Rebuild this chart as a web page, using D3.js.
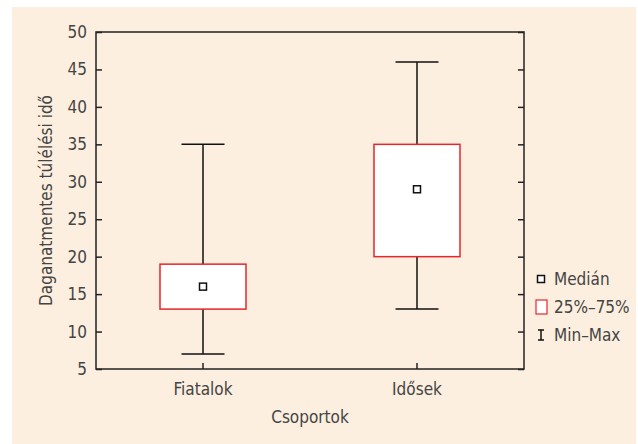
<!DOCTYPE html>
<html>
<head>
<style>
  body { margin: 0; background: #fff; }
  text { font-family: "Liberation Sans Narrow", "DejaVu Sans Condensed", sans-serif; fill: #444; }
</style>
</head>
<body>
<div id="chart"></div>
<script src="https://cdn.jsdelivr.net/npm/d3@7"></script>
<script>
// data
var groups = ["Fiatalok", "Idősek"];
var mins = [7, 13];
var q1 = [13, 20];
var medians = [16, 29];
var q3 = [19, 35];
var maxs = [35, 46];
var yTicks = [5, 10, 15, 20, 25, 30, 35, 40, 45, 50];
var legendLabels = ["Medián", "25%–75%", "Min–Max"];

var W = 638, H = 444;
var margin = {left: 96, top: 32, right: 114, bottom: 75};

var svg = d3.select("#chart").append("svg")
    .attr("width", W).attr("height", H);

svg.append("rect")
    .attr("x", 12).attr("y", 7)
    .attr("width", 624).attr("height", H - 7)
    .attr("fill", "#fdefdf");

var x = d3.scaleBand()
    .domain(groups)
    .range([margin.left, W - margin.right])
    .padding(0);

var y = d3.scaleLinear()
    .domain([5, 50])
    .range([H - margin.bottom, margin.top]);

var g = svg.append("g");

// frame
g.append("rect")
    .attr("x", margin.left).attr("y", margin.top)
    .attr("width", W - margin.left - margin.right)
    .attr("height", H - margin.top - margin.bottom)
    .attr("fill", "none").attr("stroke", "#222").attr("stroke-width", 1.5);

// left axis
var yAxis = d3.axisLeft(y).tickValues(yTicks).tickSize(-6).tickPadding(9);
var ya = g.append("g").attr("transform", "translate(" + margin.left + ",0)").call(yAxis);
ya.select(".domain").remove();
ya.selectAll("line").attr("stroke", "#222").attr("stroke-width", 1.5);
ya.selectAll("text").style("font-size", "17px").attr("fill", "#444")
    .style("font-family", "'Liberation Sans Narrow', 'DejaVu Sans Condensed', sans-serif");

// right ticks
var yr = g.append("g").attr("transform", "translate(" + (W - margin.right) + ",0)")
    .call(d3.axisRight(y).tickValues(yTicks).tickSize(-6).tickFormat(""));
yr.select(".domain").remove();
yr.selectAll("line").attr("stroke", "#222").attr("stroke-width", 1.5);

// bottom axis
var xa = g.append("g").attr("transform", "translate(0," + (H - margin.bottom) + ")")
    .call(d3.axisBottom(x).tickSize(-6).tickPadding(14));
xa.select(".domain").remove();
xa.selectAll("line").attr("stroke", "#222").attr("stroke-width", 1.5);
xa.selectAll("text").style("font-size", "17px").attr("fill", "#444")
    .style("font-family", "'Liberation Sans Narrow', 'DejaVu Sans Condensed', sans-serif");

// axis titles
svg.append("text")
    .attr("x", (margin.left + W - margin.right) / 2).attr("y", 423)
    .attr("text-anchor", "middle").style("font-size", "17px")
    .text("Csoportok");
svg.append("text")
    .attr("transform", "translate(52," + ((margin.top + H - margin.bottom) / 2) + ") rotate(-90)")
    .attr("text-anchor", "middle").style("font-size", "17px")
    .text("Daganatmentes túlélési idő");

// boxes
var boxW = 86, capW = 43;
var boxes = g.selectAll(".box").data(groups).enter().append("g").attr("class", "box");

boxes.append("line")
    .attr("x1", function(d) { return x(d) + x.bandwidth() / 2; })
    .attr("x2", function(d) { return x(d) + x.bandwidth() / 2; })
    .attr("y1", function(d, i) { return y(mins[i]); })
    .attr("y2", function(d, i) { return y(maxs[i]); })
    .attr("stroke", "#111").attr("stroke-width", 1.5);

[mins, maxs].forEach(function(arr) {
  boxes.append("line")
      .attr("x1", function(d) { return x(d) + x.bandwidth() / 2 - capW / 2; })
      .attr("x2", function(d) { return x(d) + x.bandwidth() / 2 + capW / 2; })
      .attr("y1", function(d, i) { return y(arr[i]); })
      .attr("y2", function(d, i) { return y(arr[i]); })
      .attr("stroke", "#111").attr("stroke-width", 1.5);
});

boxes.append("rect")
    .attr("x", function(d) { return x(d) + x.bandwidth() / 2 - boxW / 2; })
    .attr("y", function(d, i) { return y(q3[i]); })
    .attr("width", boxW)
    .attr("height", function(d, i) { return y(q1[i]) - y(q3[i]); })
    .attr("fill", "#fff").attr("stroke", "#e8262a").attr("stroke-width", 1.5);

boxes.append("rect")
    .attr("x", function(d) { return x(d) + x.bandwidth() / 2 - 3.5; })
    .attr("y", function(d, i) { return y(medians[i]) - 3.5; })
    .attr("width", 7).attr("height", 7)
    .attr("fill", "#fff").attr("stroke", "#111").attr("stroke-width", 1.5);

// legend
var ly = [279, 307, 335];
var lg = svg.append("g");
lg.append("rect").attr("x", 537.5).attr("y", ly[0] - 3.5).attr("width", 7).attr("height", 7)
    .attr("fill", "#fff").attr("stroke", "#111").attr("stroke-width", 1.5);
lg.append("rect").attr("x", 536).attr("y", ly[1] - 7).attr("width", 11).attr("height", 14)
    .attr("fill", "#fff").attr("stroke", "#e8262a").attr("stroke-width", 1.2);
lg.append("line").attr("x1", 541).attr("x2", 541).attr("y1", ly[2] - 5).attr("y2", ly[2] + 5)
    .attr("stroke", "#111").attr("stroke-width", 1.5);
lg.append("line").attr("x1", 538).attr("x2", 544).attr("y1", ly[2] - 5).attr("y2", ly[2] - 5)
    .attr("stroke", "#111").attr("stroke-width", 1.5);
lg.append("line").attr("x1", 538).attr("x2", 544).attr("y1", ly[2] + 5).attr("y2", ly[2] + 5)
    .attr("stroke", "#111").attr("stroke-width", 1.5);
lg.selectAll("text.leg").data(legendLabels).enter().append("text")
    .attr("class", "leg")
    .attr("x", 554).attr("y", function(d, i) { return ly[i]; })
    .attr("dy", "0.35em").style("font-size", "17px")
    .text(function(d) { return d; });
</script>
</body>
</html>
